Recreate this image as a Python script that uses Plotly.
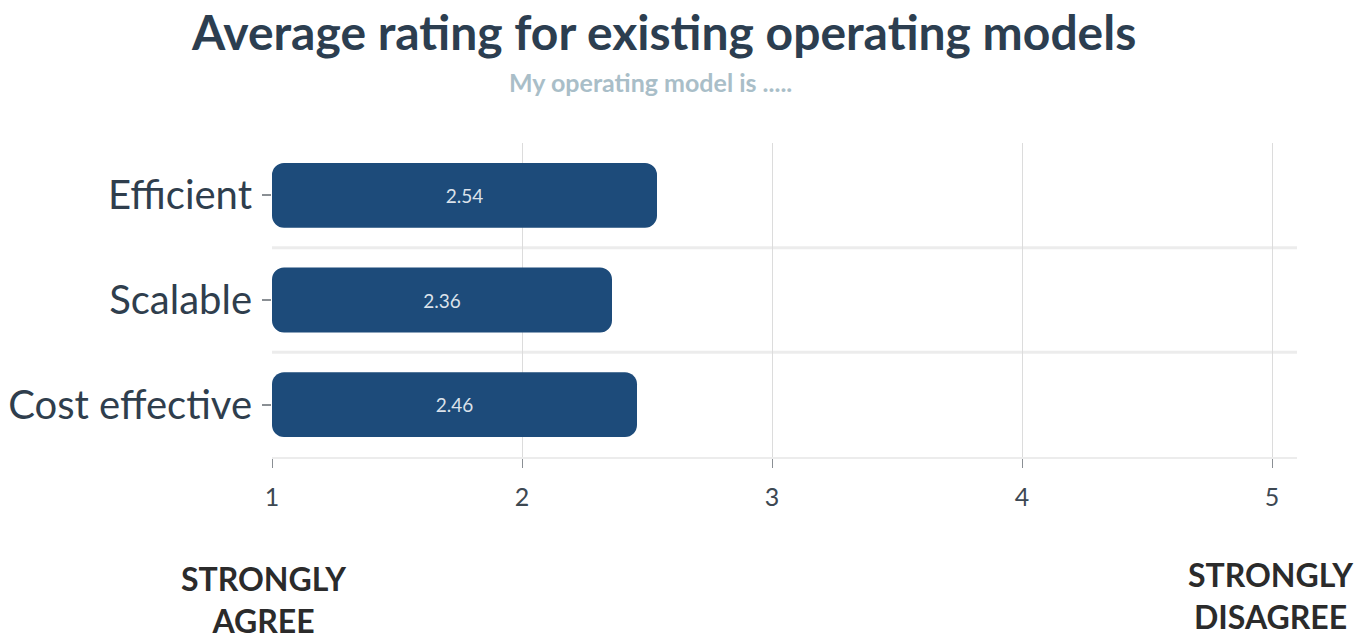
import plotly.graph_objects as go

# Survey results: average rating on a 1 (strongly agree) to 5 (strongly disagree) scale
categories = ["Efficient", "Scalable", "Cost effective"]
ratings = [2.54, 2.36, 2.46]
scale_ticks = [1, 2, 3, 4, 5]
scale_min = 1
scale_max = 5.1

title_text = "Average rating for existing operating models"
subtitle_text = "My operating model is ....."
left_end_label = "STRONGLY<br>AGREE"
right_end_label = "STRONGLY<br>DISAGREE"

BAR_COLOR = "#1d4b7a"
GRID_COLOR = "#dcdcdc"
BAND_COLOR = "#ececec"

fig = go.Figure()

fig.add_trace(go.Bar(
    y=categories,
    x=[r - scale_min for r in ratings],
    base=scale_min,
    orientation="h",
    marker=dict(color=BAR_COLOR, cornerradius=12, line=dict(width=0)),
    text=[f"{r:.2f}" for r in ratings],
    textposition="inside",
    insidetextanchor="middle",
    textfont=dict(family="Lato", size=19, color="#dbe2ea"),
    width=0.62,
    hovertemplate="%{y}: %{text}<extra></extra>",
))

# separators between category bands
shapes = []
for i in range(len(categories) - 1):
    shapes.append(dict(
        type="line", xref="paper", yref="y",
        x0=0, x1=1, y0=i + 0.5, y1=i + 0.5,
        line=dict(color=BAND_COLOR, width=3), layer="below",
    ))

fig.update_layout(
    width=1372, height=639,
    margin=dict(l=272, r=75, t=143, b=182),
    paper_bgcolor="white", plot_bgcolor="white",
    showlegend=False,
    shapes=shapes,
    xaxis=dict(
        range=[scale_min, scale_max],
        tickvals=scale_ticks,
        automargin=False,
        showgrid=True, gridcolor=GRID_COLOR, gridwidth=1,
        zeroline=False,
        showline=True, linecolor=BAND_COLOR, linewidth=2,
        ticks="outside", ticklen=9, tickcolor="#8a8f94", tickwidth=1,
        ticklabelstandoff=8,
        tickfont=dict(family="Lato", size=25, color="#3d4852"),
    ),
    yaxis=dict(
        categoryorder="array", categoryarray=categories,
        autorange="reversed",
        automargin=False,
        showgrid=False, zeroline=False, showline=False,
        ticks="outside", ticklen=9, tickcolor="#8a8f94", tickwidth=2,
        ticklabelstandoff=2,
        tickfont=dict(family="Lato", size=40, color="#2f3e4d"),
    ),
    annotations=[
        dict(text=f"<b>{title_text}</b>", xref="paper", yref="paper",
             x=(663 - 272) / 1025, y=(457 - 32) / 314, showarrow=False,
             xanchor="center", yanchor="middle",
             font=dict(family="Lato", size=48, color="#2c3e50")),
        dict(text=f"<b>{subtitle_text}</b>", xref="paper", yref="paper",
             x=(650 - 272) / 1025, y=(457 - 82) / 314, showarrow=False,
             xanchor="center", yanchor="middle",
             font=dict(family="Lato", size=25, color="#a9bec8")),
        dict(text=f"<b>{left_end_label}</b>", xref="paper", yref="paper",
             x=(263 - 272) / 1025, y=(457 - 599) / 314, showarrow=False,
             xanchor="center", yanchor="middle",
             font=dict(family="Lato", size=32, color="#2b2b2b")),
        dict(text=f"<b>{right_end_label}</b>", xref="paper", yref="paper",
             x=(1270 - 272) / 1025, y=(457 - 595) / 314, showarrow=False,
             xanchor="center", yanchor="middle",
             font=dict(family="Lato", size=32, color="#2b2b2b")),
    ],
)

fig.write_html("out.html")
